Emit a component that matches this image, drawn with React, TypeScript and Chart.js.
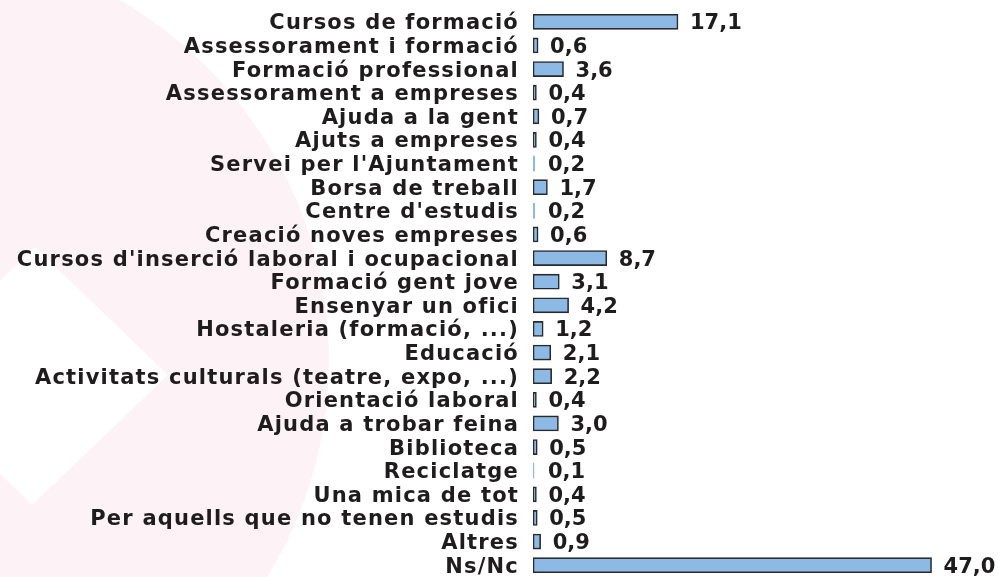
import React, { useEffect, useRef } from "react";
import { Chart, registerables } from "chart.js";

Chart.register(...registerables);

const categories: string[] = [
  "Cursos de formació",
  "Assessorament i formació",
  "Formació professional",
  "Assessorament a empreses",
  "Ajuda a la gent",
  "Ajuts a empreses",
  "Servei per l'Ajuntament",
  "Borsa de treball",
  "Centre d'estudis",
  "Creació noves empreses",
  "Cursos d'inserció laboral i ocupacional",
  "Formació gent jove",
  "Ensenyar un ofici",
  "Hostaleria (formació, ...)",
  "Educació",
  "Activitats culturals (teatre, expo, ...)",
  "Orientació laboral",
  "Ajuda a trobar feina",
  "Biblioteca",
  "Reciclatge",
  "Una mica de tot",
  "Per aquells que no tenen estudis",
  "Altres",
  "Ns/Nc",
];

const values: number[] = [
  17.1, 0.6, 3.6, 0.4, 0.7, 0.4, 0.2, 1.7, 0.2, 0.6, 8.7, 3.1, 4.2, 1.2, 2.1,
  2.2, 0.4, 3.0, 0.5, 0.1, 0.4, 0.5, 0.9, 47.0,
];

const FONT_FAMILY = "'DejaVu Sans', Verdana, sans-serif";
const TEXT_COLOR = "#1f1c1d";
const BAR_FILL = "#8db9e5";
const BAR_BORDER = "#2a2a2a";
const BG_PINK = "#fdf2f5";

const formatValue = (v: number) => v.toFixed(1).replace(".", ",");

const backgroundPlugin = {
  id: "watermark",
  beforeDraw(chart: any) {
    const ctx = chart.ctx as CanvasRenderingContext2D;
    const w = chart.width;
    const h = chart.height;
    ctx.save();
    ctx.fillStyle = "#ffffff";
    ctx.fillRect(0, 0, w, h);
    // faint pink rounded shape on the left
    ctx.beginPath();
    ctx.ellipse(-102, 360, 431, 420, 0, 0, Math.PI * 2);
    ctx.fillStyle = BG_PINK;
    ctx.fill();
    // white diamond cut-out
    ctx.beginPath();
    ctx.moveTo(35, 247);
    ctx.lineTo(168, 375);
    ctx.lineTo(32, 505);
    ctx.lineTo(-100, 376);
    ctx.closePath();
    ctx.fillStyle = "#ffffff";
    ctx.fill();
    ctx.restore();
    // letter spacing for the category labels drawn by the axis
    (ctx as any).letterSpacing = "1.2px";
  },
  beforeDatasetsDraw(chart: any) {
    (chart.ctx as any).letterSpacing = "0px";
  },
  beforeUpdate(chart: any) {
    (chart.ctx as any).letterSpacing = "1.2px";
  },
  afterUpdate(chart: any) {
    (chart.ctx as any).letterSpacing = "0px";
  },
};

const valueLabelPlugin = {
  id: "valueLabels",
  afterDatasetsDraw(chart: any) {
    const ctx = chart.ctx as CanvasRenderingContext2D;
    const meta = chart.getDatasetMeta(0);
    const data = chart.data.datasets[0].data as number[];
    ctx.save();
    (ctx as any).letterSpacing = "0px";
    ctx.font = `bold 21px ${FONT_FAMILY}`;
    ctx.fillStyle = TEXT_COLOR;
    ctx.textAlign = "left";
    ctx.textBaseline = "middle";
    meta.data.forEach((bar: any, i: number) => {
      const base = chart.scales.x.getPixelForValue(0);
      const end = Math.max(bar.x, base + 3);
      ctx.fillText(formatValue(data[i]), end + 12, bar.y + 2);
    });
    ctx.restore();
  },
};

export default function App() {
  const canvasRef = useRef<HTMLCanvasElement | null>(null);

  useEffect(() => {
    const canvas = canvasRef.current;
    if (!canvas) return;
    const chart = new Chart(canvas, {
      type: "bar",
      data: {
        labels: categories,
        datasets: [
          {
            data: values,
            backgroundColor: BAR_FILL,
            borderColor: BAR_BORDER,
            borderWidth: (c: any) => (c.raw !== undefined && c.raw < 0.3 ? 0 : 1.6),
            borderSkipped: false,
            barThickness: 15,
          },
        ],
      },
      options: {
        indexAxis: "y",
        animation: false,
        responsive: true,
        maintainAspectRatio: false,
        layout: { padding: { top: 10, bottom: 0, left: 0, right: 41 } },
        plugins: {
          legend: { display: false },
          tooltip: { enabled: false },
          title: { display: false },
        },
        scales: {
          x: {
            display: false,
            min: 0,
            max: 50,
          },
          y: {
            grid: { display: false, drawTicks: false },
            border: { display: false },
            afterFit: (scale: any) => {
              scale.width = 533;
              scale.paddingTop = 0;
              scale.paddingBottom = 0;
            },
            ticks: {
              autoSkip: false,
              padding: 14,
              labelOffset: 2,
              color: TEXT_COLOR,
              font: { family: FONT_FAMILY, size: 21, weight: "bold" },
            },
          },
        },
      } as any,
      plugins: [backgroundPlugin, valueLabelPlugin],
    });
    return () => chart.destroy();
  }, []);

  return (
    <div
      style={{
        position: "fixed",
        left: 0,
        top: 0,
        width: 998,
        height: 577,
        background: "#ffffff",
      }}
    >
      <canvas ref={canvasRef} />
    </div>
  );
}
